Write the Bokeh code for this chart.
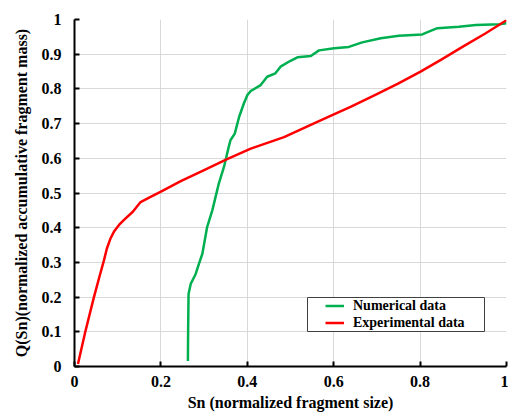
from bokeh.plotting import figure
from bokeh.models import Range1d, FixedTicker, CustomJSTickFormatter, Legend, LegendItem, BoxAnnotation
from bokeh.embed import file_html
from bokeh.resources import INLINE

# Numerical data (green)
num_x = [0.2625, 0.263, 0.264, 0.269, 0.280, 0.288, 0.296, 0.307, 0.319, 0.334, 0.346, 0.357,
         0.361, 0.371, 0.381, 0.392, 0.400, 0.408, 0.431, 0.446, 0.465, 0.477, 0.500, 0.516,
         0.547, 0.566, 0.601, 0.635, 0.666, 0.709, 0.751, 0.805, 0.820, 0.840, 0.890, 0.929,
         0.983, 1.0]
num_y = [0.016, 0.100, 0.209, 0.238, 0.265, 0.296, 0.325, 0.402, 0.450, 0.527, 0.575, 0.633,
         0.652, 0.671, 0.719, 0.758, 0.782, 0.794, 0.811, 0.835, 0.845, 0.864, 0.881, 0.891,
         0.895, 0.911, 0.917, 0.921, 0.934, 0.946, 0.953, 0.957, 0.965, 0.975, 0.979, 0.984,
         0.986, 0.989]

# Experimental data (red)
exp_x = [0.008, 0.025, 0.045, 0.058, 0.068, 0.075, 0.083, 0.092, 0.103, 0.114, 0.135, 0.153,
         0.175, 0.199, 0.246, 0.300, 0.352, 0.408, 0.485, 0.562, 0.599, 0.639, 0.700, 0.750,
         0.800, 0.850, 0.898, 0.950, 1.0]
exp_y = [0.007, 0.100, 0.200, 0.260, 0.305, 0.340, 0.368, 0.390, 0.408, 0.422, 0.446, 0.474,
         0.488, 0.503, 0.534, 0.566, 0.597, 0.628, 0.661, 0.705, 0.726, 0.748, 0.785, 0.816,
         0.849, 0.885, 0.921, 0.959, 0.998]

x_ticks = [0, 0.2, 0.4, 0.6, 0.8, 1.0]
y_ticks = [0, 0.1, 0.2, 0.3, 0.4, 0.5, 0.6, 0.7, 0.8, 0.9, 1.0]

FONT = "Liberation Serif"
TICK_FONT = "Times New Roman"

p = figure(width=508, height=414, output_backend="svg", toolbar_location=None,
           x_range=Range1d(0, 1), y_range=Range1d(0, 1),
           min_border_left=74, min_border_right=2, min_border_top=19, min_border_bottom=48)
p.outline_line_color = None
p.background_fill_color = "white"

r_num = p.line(num_x, num_y, line_color="#00B050", line_width=2.5, line_join="round")
r_exp = p.line(exp_x, exp_y, line_color="#FF0000", line_width=2.5, line_join="round")

fmt = CustomJSTickFormatter(code="return Number(tick.toFixed(2)).toString();")
p.xaxis.ticker = FixedTicker(ticks=x_ticks)
p.yaxis.ticker = FixedTicker(ticks=y_ticks)
p.xaxis.formatter = fmt
p.yaxis.formatter = fmt

for ax in (p.xaxis, p.yaxis):
    ax.axis_line_color = "black"
    ax.axis_line_width = 2
    ax.major_tick_line_color = "black"
    ax.major_tick_line_width = 2
    ax.major_tick_in = 5
    ax.major_tick_out = 0
    ax.minor_tick_line_color = None
    ax.major_label_text_font = TICK_FONT
    ax.major_label_text_font_style = "bold"
    ax.major_label_text_font_size = "16px"
    ax.major_label_text_color = "black"
    ax.axis_label_text_font = FONT
    ax.axis_label_text_font_style = "bold"
    ax.axis_label_text_font_size = "16px"
    ax.axis_label_text_color = "black"

p.xaxis.axis_label = "Sn (normalized fragment size)"
p.yaxis.axis_label = "Q(Sn)(normalized accumulative fragment mass)"
p.xaxis.major_label_standoff = 9
p.yaxis.major_label_standoff = 13
p.xaxis.axis_label_standoff = 4
p.yaxis.axis_label_standoff = 9

p.xgrid.grid_line_color = "#D9D9D9"
p.ygrid.grid_line_color = "#D9D9D9"
p.xgrid.grid_line_width = 1
p.ygrid.grid_line_width = 1

# legend frame (screen units relative to plot frame)
legend_box = BoxAnnotation(left=233, right=410, bottom=35, top=69,
                           left_units="screen", right_units="screen",
                           bottom_units="screen", top_units="screen",
                           fill_color="white", fill_alpha=1,
                           line_color="#404040", line_width=1, line_alpha=1)
p.add_layout(legend_box)

legend = Legend(items=[LegendItem(label="Numerical data", renderers=[r_num]),
                       LegendItem(label="Experimental data", renderers=[r_exp])],
                location=(251, 35), orientation="vertical")
legend.border_line_color = None
legend.background_fill_alpha = 0
legend.padding = 0
legend.spacing = 0
legend.margin = 0
legend.glyph_width = 19
legend.glyph_height = 17
legend.label_height = 17
legend.label_standoff = 9
legend.label_text_font = TICK_FONT
legend.label_text_font_style = "bold"
legend.label_text_font_size = "14px"
legend.label_text_color = "black"
p.add_layout(legend, "center")

open("out.html", "w").write(file_html(p, INLINE))
